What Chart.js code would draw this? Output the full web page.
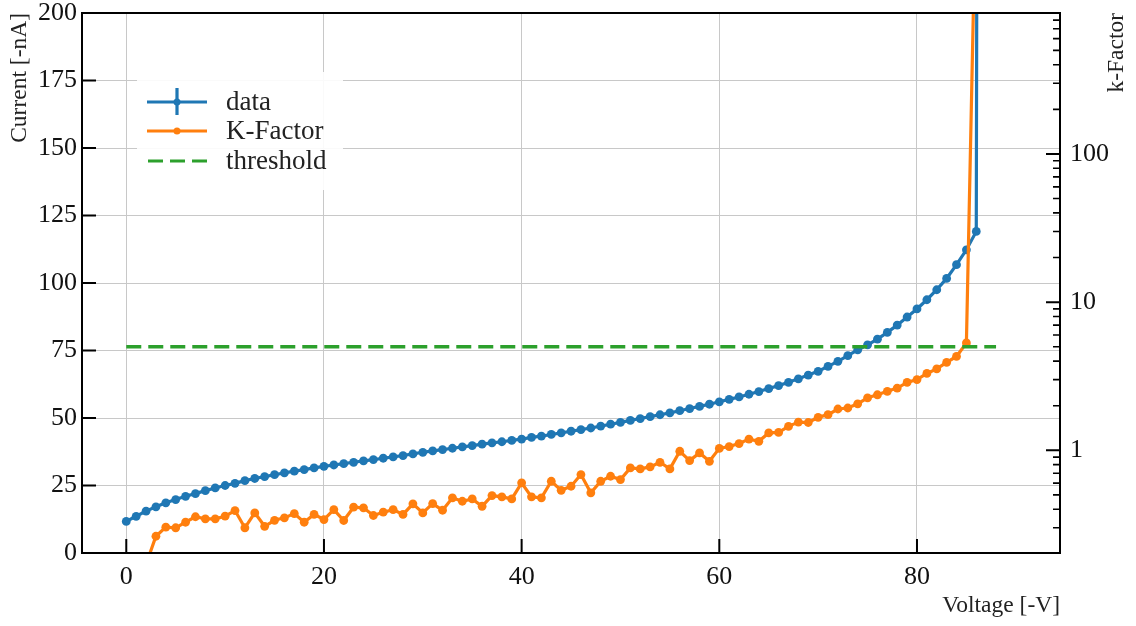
<!DOCTYPE html>
<html>
<head>
<meta charset="utf-8">
<script src="https://cdn.jsdelivr.net/npm/chart.js@4.4.1/dist/chart.umd.min.js"></script>
<style>
  html, body { margin: 0; padding: 0; background: #fff; }
  #wrap { width: 1136px; height: 626px; }
</style>
</head>
<body>
<div id="wrap"><canvas id="ivChart"></canvas></div>
<script>
// Bias voltage steps [-V]
const voltage = [
  0, 1, 2, 3, 4, 5, 6, 7, 8, 9, 10, 11, 12, 13, 14, 15, 16, 17, 18, 19,
  20, 21, 22, 23, 24, 25, 26, 27, 28, 29, 30, 31, 32, 33, 34, 35, 36, 37, 38, 39,
  40, 41, 42, 43, 44, 45, 46, 47, 48, 49, 50, 51, 52, 53, 54, 55, 56, 57, 58, 59,
  60, 61, 62, 63, 64, 65, 66, 67, 68, 69, 70, 71, 72, 73, 74, 75, 76, 77, 78, 79,
  80, 81, 82, 83, 84, 85, 86, 87
];

// Leakage current [-nA]
const current = [
  11.7, 13.6, 15.5, 17.1, 18.6, 19.8, 21.0, 22.0, 23.1, 24.1,
  25.0, 25.8, 26.8, 27.6, 28.3, 29.0, 29.7, 30.3, 30.9, 31.5,
  32.1, 32.6, 33.1, 33.6, 34.1, 34.6, 35.1, 35.6, 36.1, 36.7,
  37.3, 37.8, 38.3, 38.8, 39.3, 39.8, 40.3, 40.8, 41.2, 41.7,
  42.2, 42.8, 43.3, 43.9, 44.5, 45.1, 45.7, 46.3, 47.0, 47.7,
  48.4, 49.1, 49.8, 50.5, 51.2, 51.9, 52.7, 53.5, 54.3, 55.1,
  56.0, 56.9, 57.8, 58.8, 59.8, 60.9, 62.0, 63.2, 64.5, 65.9,
  67.3, 69.1, 71.0, 73.1, 75.2, 77.1, 79.2, 81.7, 84.4, 87.4,
  90.4, 93.8, 97.5, 101.7, 106.8, 112.3, 119.1, 2000
];

// k-factor per voltage step (no value for the first two steps)
const kFactor = [
  null, null, 0.17, 0.263, 0.303, 0.300, 0.327, 0.356, 0.345, 0.345,
  0.359, 0.392, 0.300, 0.378, 0.307, 0.337, 0.350, 0.374, 0.327, 0.369,
  0.341, 0.398, 0.336, 0.413, 0.409, 0.363, 0.382, 0.398, 0.369, 0.435,
  0.378, 0.437, 0.394, 0.478, 0.453, 0.470, 0.419, 0.495, 0.485, 0.470,
  0.603, 0.485, 0.478, 0.618, 0.537, 0.572, 0.686, 0.516, 0.618, 0.668,
  0.634, 0.760, 0.749, 0.773, 0.830, 0.749, 0.985, 0.852, 0.960, 0.843,
  1.03, 1.06, 1.11, 1.19, 1.15, 1.31, 1.32, 1.45, 1.55, 1.54,
  1.67, 1.74, 1.90, 1.93, 2.06, 2.26, 2.37, 2.50, 2.63, 2.87,
  3.00, 3.30, 3.54, 3.92, 4.30, 5.30, 8100, null
];

// Breakdown threshold on the k-factor axis
const thresholdV = [0, 88];
const thresholdK = [5, 5];

// Axis ticks
const voltageTicks = [0, 20, 40, 60, 80];
const currentTicks = [0, 25, 50, 75, 100, 125, 150, 175, 200];
const kTicks = [1, 10, 100];

const FONT = "'Liberation Serif', 'Times New Roman', serif";
const BLUE = '#1f77b4';
const ORANGE = '#ff7f0e';
const GREEN = '#2ca02c';

function pairs(xs, ys) {
  return xs.map((x, i) => ({ x: x, y: ys[i] }));
}

// minor tick values for a log axis between lo and hi
function logMinors(lo, hi) {
  const out = [];
  for (let e = Math.floor(Math.log10(lo)); e <= Math.ceil(Math.log10(hi)); e++) {
    for (let m = 2; m <= 9; m++) {
      const v = m * Math.pow(10, e);
      if (v >= lo && v <= hi) out.push(v);
    }
  }
  return out;
}

// spines, inward ticks, axis titles and the legend box
const framePlugin = {
  id: 'framePlugin',
  afterDraw(chart) {
    const { ctx, chartArea: a, scales } = chart;
    ctx.save();
    ctx.strokeStyle = '#000';
    ctx.lineWidth = 2;
    ctx.beginPath();
    voltageTicks.forEach(v => {
      const px = scales.x.getPixelForValue(v);
      ctx.moveTo(px, a.bottom); ctx.lineTo(px, a.bottom - 14);
    });
    currentTicks.forEach(v => {
      const py = scales.y.getPixelForValue(v);
      ctx.moveTo(a.left, py); ctx.lineTo(a.left + 14, py);
    });
    kTicks.forEach(v => {
      const py = scales.y2.getPixelForValue(v);
      ctx.moveTo(a.right, py); ctx.lineTo(a.right - 14, py);
    });
    ctx.stroke();
    ctx.lineWidth = 1.6;
    ctx.beginPath();
    logMinors(scales.y2.min, scales.y2.max).forEach(v => {
      const py = scales.y2.getPixelForValue(v);
      ctx.moveTo(a.right, py); ctx.lineTo(a.right - 7, py);
    });
    ctx.stroke();
    ctx.lineWidth = 2;
    ctx.strokeRect(a.left, a.top, a.right - a.left, a.bottom - a.top);

    // axis titles
    ctx.fillStyle = '#222';
    ctx.font = '23.5px ' + FONT;
    ctx.textBaseline = 'middle';
    ctx.textAlign = 'right';
    ctx.fillText('Voltage [-V]', a.right, 606);
    ctx.save();
    ctx.translate(20, a.top);
    ctx.rotate(-Math.PI / 2);
    ctx.fillText('Current [-nA]', 0, 0);
    ctx.restore();
    ctx.save();
    ctx.translate(1117, a.top);
    ctx.rotate(-Math.PI / 2);
    ctx.fillText('k-Factor', 0, 0);
    ctx.restore();

    // legend
    const lx = a.left + 55, ly = a.top + 59;
    ctx.fillStyle = 'rgba(255,255,255,0.9)';
    ctx.fillRect(lx, ly, 206, 118);
    const sets = chart.data.datasets;
    const rows = [ly + 30, ly + 59, ly + 89];
    const h0 = lx + 10, h1 = lx + 70, hc = (h0 + h1) / 2;
    ctx.lineCap = 'butt';
    // data: line with error bar
    ctx.strokeStyle = sets[0].borderColor;
    ctx.lineWidth = 3.2;
    ctx.beginPath();
    ctx.moveTo(h0, rows[0]); ctx.lineTo(h1, rows[0]);
    ctx.moveTo(hc, rows[0] - 14); ctx.lineTo(hc, rows[0] + 13);
    ctx.stroke();
    ctx.fillStyle = sets[0].borderColor;
    ctx.beginPath(); ctx.arc(hc, rows[0], 3.5, 0, Math.PI * 2); ctx.fill();
    // K-Factor: line with dot
    ctx.strokeStyle = sets[1].borderColor;
    ctx.beginPath(); ctx.moveTo(h0, rows[1]); ctx.lineTo(h1, rows[1]); ctx.stroke();
    ctx.fillStyle = sets[1].borderColor;
    ctx.beginPath(); ctx.arc(hc, rows[1], 3.5, 0, Math.PI * 2); ctx.fill();
    // threshold: dashed
    ctx.strokeStyle = sets[2].borderColor;
    ctx.setLineDash([15, 7]);
    ctx.beginPath(); ctx.moveTo(h0 + 1, rows[2]); ctx.lineTo(h1, rows[2]); ctx.stroke();
    ctx.setLineDash([]);
    ctx.fillStyle = '#222';
    ctx.font = '27px ' + FONT;
    ctx.textAlign = 'left';
    sets.forEach((s, i) => ctx.fillText(s.label, lx + 89, rows[i] + 1));
    ctx.restore();
  }
};

function fixSize(w, h) {
  return function (scale) {
    if (w !== null) scale.width = w;
    if (h !== null) scale.height = h;
    scale.paddingTop = 0; scale.paddingBottom = 0;
    scale.paddingLeft = 0; scale.paddingRight = 0;
  };
}

const ctx = document.getElementById('ivChart');
new Chart(ctx, {
  type: 'line',
  data: {
    datasets: [{
      label: 'data',
      data: pairs(voltage, current),
      yAxisID: 'y',
      borderColor: BLUE,
      backgroundColor: BLUE,
      borderWidth: 3.2,
      pointRadius: 4.4,
      pointHoverRadius: 4.4,
      pointBorderWidth: 0,
      tension: 0,
      order: 3
    }, {
      label: 'K-Factor',
      data: pairs(voltage, kFactor),
      yAxisID: 'y2',
      borderColor: ORANGE,
      backgroundColor: ORANGE,
      borderWidth: 3.2,
      pointRadius: 4.4,
      pointHoverRadius: 4.4,
      pointBorderWidth: 0,
      tension: 0,
      order: 2
    }, {
      label: 'threshold',
      data: pairs(thresholdV, thresholdK),
      yAxisID: 'y2',
      borderColor: GREEN,
      backgroundColor: GREEN,
      borderWidth: 3.3,
      borderDash: [15, 7],
      pointRadius: 0,
      tension: 0,
      order: 1
    }]
  },
  options: {
    responsive: true,
    maintainAspectRatio: false,
    animation: false,
    layout: { padding: { top: 13, left: 0, right: 0, bottom: 0 } },
    plugins: {
      legend: { display: false },
      tooltip: { enabled: false }
    },
    scales: {
      x: {
        type: 'linear',
        min: -4.48,
        max: 94.47,
        afterBuildTicks: s => { s.ticks = voltageTicks.map(v => ({ value: v })); },
        afterFit: fixSize(null, 73),
        grid: { color: '#c8c8c8', lineWidth: 1, drawTicks: false },
        border: { display: false },
        ticks: { padding: 9, color: '#111', font: { family: FONT, size: 26 }, maxRotation: 0 }
      },
      y: {
        type: 'linear',
        position: 'left',
        min: 0,
        max: 200,
        afterBuildTicks: s => { s.ticks = currentTicks.map(v => ({ value: v })); },
        afterFit: fixSize(82, null),
        grid: { color: '#c8c8c8', lineWidth: 1, drawTicks: false },
        border: { display: false },
        ticks: { padding: 5, color: '#111', font: { family: FONT, size: 26 } }
      },
      y2: {
        type: 'logarithmic',
        position: 'right',
        min: 0.2027,
        max: 894,
        afterBuildTicks: s => { s.ticks = kTicks.map(v => ({ value: v })); },
        afterFit: fixSize(76, null),
        grid: { display: false, drawTicks: false },
        border: { display: false },
        ticks: {
          padding: 10,
          color: '#111',
          font: { family: FONT, size: 26 },
          callback: v => String(v)
        }
      }
    }
  },
  plugins: [framePlugin]
});
</script>
</body>
</html>
